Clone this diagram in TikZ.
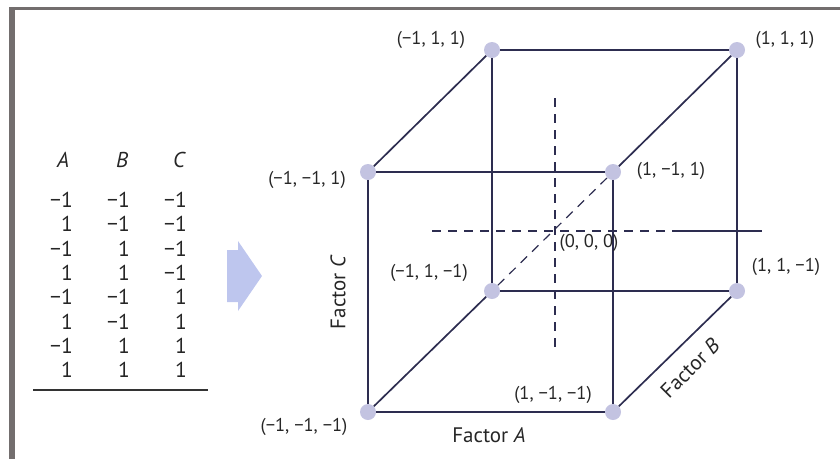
\documentclass[tikz,border=0pt]{standalone}
\usepackage{fontspec}
\setmainfont{PT Sans}
\usetikzlibrary{positioning}

\definecolor{framegray}{RGB}{115,110,110}
\definecolor{edgeblue}{RGB}{45,45,80}
\definecolor{dotblue}{RGB}{195,195,225}
\definecolor{arrowblue}{RGB}{190,198,238}

\tikzset{
  cubeedge/.style={draw=edgeblue, line width=1.7pt},
  corner/.style={circle, fill=dotblue, minimum size=16pt, inner sep=0pt},
  coordlabel/.style={font=\fontsize{18.5}{20}\selectfont, text=black!85, inner sep=1pt},
  factorlabel/.style={font=\fontsize{21}{23}\selectfont, text=black!85, inner sep=1pt},
  tabletext/.style={font=\fontsize{21.5}{23}\selectfont, text=black!85, inner sep=0pt},
  centerline/.style={draw=edgeblue, line width=1.5pt, dash pattern=on 9pt off 7pt}
}

\begin{document}
\begin{tikzpicture}[x=1pt, y=-1pt]
  \useasboundingbox (0,0) rectangle (840,459);
  % frame cut off at the right and bottom
  \fill[framegray] (9,7) rectangle (840,10);
  \fill[framegray] (9,7) rectangle (15,459);

  % design table
  \node[tabletext] (hA) at (63,160) {\itshape A};
  \node[tabletext] (hB) at (122,160) {\itshape B};
  \node[tabletext] (hC) at (179,160) {\itshape C};
  \foreach \a/\b/\c [count=\i from 0] in {−1/−1/−1, 1/−1/−1, −1/1/−1, 1/1/−1,
      −1/−1/1, 1/−1/1, −1/1/1, 1/1/1} {
    \node[tabletext, anchor=east] (ra\i) at (73,200+24.3*\i) {\a};
    \node[tabletext, anchor=east] (rb\i) at (130,200+24.3*\i) {\b};
    \node[tabletext, anchor=east] (rc\i) at (187,200+24.3*\i) {\c};
  }
  \draw[black!80, line width=1.4pt] (33,390) -- (208,390);

  % block arrow
  \fill[arrowblue] (227,250) -- (238,250) -- (238,241) -- (262,276)
    -- (238,311) -- (238,302) -- (227,302) -- cycle;

  % cube corners (A,B,C): m = -1, p = 1
  \node[corner] (mmm) at (368,412) {};
  \node[corner] (pmm) at (613,412) {};
  \node[corner] (mmp) at (368,172) {};
  \node[corner] (pmp) at (613,172) {};
  \node[corner] (mpm) at (492,291) {};
  \node[corner] (ppm) at (737,291) {};
  \node[corner] (mpp) at (492,50) {};
  \node[corner] (ppp) at (737,50) {};

  % centre lines
  \coordinate (O) at (553,231);
  \coordinate (hl) at (432,231);
  \coordinate (hm) at (677,231);
  \coordinate (hr) at (762,231);
  \coordinate (vt) at (555,98);
  \coordinate (vb) at (555,352);
  \draw[centerline] (hl) -- (hm);
  \draw[draw=edgeblue, line width=1.5pt] (hm) -- (hr);
  \draw[centerline] (vt) -- (vb);
  \draw[centerline, line width=1.2pt] (mpm) -- (pmp);

  % cube edges
  \draw[cubeedge] (mmm) -- (pmm);
  \draw[cubeedge] (mmp) -- (pmp);
  \draw[cubeedge] (mpm) -- (ppm);
  \draw[cubeedge] (mpp) -- (ppp);
  \draw[cubeedge] (mmm) -- (mmp);
  \draw[cubeedge] (pmm) -- (pmp);
  \draw[cubeedge] (mpm) -- (mpp);
  \draw[cubeedge] (ppm) -- (ppp);
  \draw[cubeedge] (mmm) -- (mpm);
  \draw[cubeedge] (pmm) -- (ppm);
  \draw[cubeedge] (mmp) -- (mpp);
  \draw[cubeedge] (pmp) -- (ppp);

  % corner labels
  \node[coordlabel] (lmpp) at (431,40) {(−1, 1, 1)};
  \node[coordlabel] (lppp) at (785,40) {(1, 1, 1)};
  \node[coordlabel] (lmmp) at (307,180) {(−1, −1, 1)};
  \node[coordlabel] (lpmp) at (671,171) {(1, −1, 1)};
  \node[coordlabel] (lO) at (589,243) {(0, 0, 0)};
  \node[coordlabel] (lmpm) at (429,273) {(−1, 1, −1)};
  \node[coordlabel] (lppm) at (786,267) {(1, 1, −1)};
  \node[coordlabel] (lpmm) at (553,395) {(1, −1, −1)};
  \node[coordlabel] (lmmm) at (304,427) {(−1, −1, −1)};

  % factor axes
  \node[factorlabel, rotate=90] (fC) at (338,292) {Factor \textit{C}};
  \node[factorlabel] (fA) at (489,435) {Factor \textit{A}};
  \node[factorlabel, rotate=45] (fB) at (690,368) {Factor \textit{B}};
\end{tikzpicture}
\end{document}
